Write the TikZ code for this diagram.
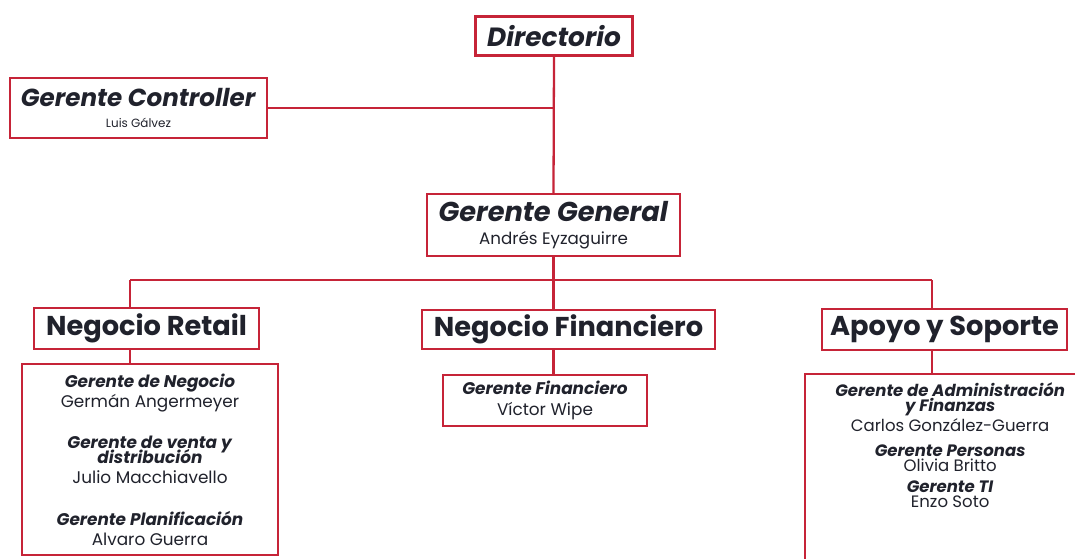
\documentclass[tikz,border=0pt]{standalone}
\usepackage{fontspec}
\setmainfont{Poppins}
\usetikzlibrary{positioning}
\definecolor{boxred}{RGB}{198,36,56}
\definecolor{inkgray}{RGB}{32,34,44}
\newcommand{\namefont}{\fontsize{9.5}{10}\selectfont\mdseries\upshape}
\newcommand{\roletxt}[1]{\textbf{\textit{#1}}}

\begin{document}
\begin{tikzpicture}[
  headbox/.style={rectangle, draw=boxred, line width=1.3pt, fill=white,
    text=inkgray, inner sep=2pt, align=center,
    font=\fontsize{15.5}{16}\selectfont\bfseries},
  detbox/.style={rectangle, draw=boxred, line width=1.3pt, fill=white,
    text=inkgray, inner sep=2pt, align=center,
    font=\fontsize{9.6}{11.5}\selectfont},
  link/.style={boxred, line width=1.3pt}
]
\useasboundingbox[fill=white] (0,0) rectangle (21.5,-11.16);
% top level
\node[headbox, minimum width=3.14cm, minimum height=0.78cm, font=\fontsize{15}{16}\selectfont\bfseries\itshape]
  (dir) at (11.08,-0.72) {Directorio};
\node[headbox, minimum width=5.14cm, minimum height=1.2cm, font=\fontsize{14}{15}\selectfont\bfseries] (gc) at (2.77,-2.16)
  {\textit{Gerente Controller}\\[-3pt]{\fontsize{6.8}{7}\selectfont\mdseries\upshape Luis Gálvez}};
\node[headbox, minimum width=5.06cm, minimum height=1.24cm] (gg) at (11.07,-4.5)
  {\textit{Gerente General}\\[-3pt]{\namefont Andrés Eyzaguirre}};
% areas
\node[headbox, minimum width=4.5cm, minimum height=0.82cm] (rt) at (2.93,-6.57) {Negocio Retail};
\node[headbox, minimum width=5.86cm, minimum height=0.78cm] (nf) at (11.37,-6.59) {Negocio Financiero};
\node[headbox, minimum width=4.9cm, minimum height=0.82cm] (as) at (18.89,-6.59) {Apoyo y Soporte};
% managers
\node[detbox, minimum width=5.12cm, minimum height=3.82cm] (rd) at (3.0,-9.19)
  {\roletxt{Gerente de Negocio}\\Germán Angermeyer\\[12pt]
   \roletxt{Gerente de venta y}\\[-3pt]\roletxt{distribución}\\Julio Macchiavello\\[12pt]
   \roletxt{Gerente Planificación}\\Alvaro Guerra};
\node[detbox, minimum width=4.08cm, minimum height=1.02cm] (nd) at (10.9,-8.01)
  {\roletxt{Gerente Financiero}\\Víctor Wipe};
\node[detbox, anchor=north west, minimum width=5.8cm, minimum height=4.0cm] (ad) at (16.08,-7.46) {};
\node[detbox, draw=none, fill=none, font=\fontsize{9.4}{8.8}\selectfont, below=0.1cm of ad.north] (adt)
  {\roletxt{Gerente de Administración}\\\roletxt{y Finanzas}\\Carlos González-Guerra\\[5.5pt]
   \roletxt{Gerente Personas}\\Olivia Britto\\[3pt]
   \roletxt{Gerente TI}\\Enzo Soto};
% connectors
\coordinate (bl) at (2.6,-5.6);
\coordinate (br) at (18.64,-5.6);
\draw[link] (dir.south) -- (gg.north);
\draw[link] (gc.east) -- (gc.east -| dir.south);
\draw[link] (bl) -- (br);
\draw[link] (gg.south) -- (gg.south |- nf.north);
\draw[link] (bl) -- (bl |- rt.north);
\draw[link] (br) -- (br |- as.north);
\draw[link] (bl |- rt.south) -- (bl |- rd.north);
\draw[link] (gg.south |- nf.south) -- (gg.south |- nd.north);
\draw[link] (br |- as.south) -- (br |- ad.north);
\end{tikzpicture}
\end{document}
